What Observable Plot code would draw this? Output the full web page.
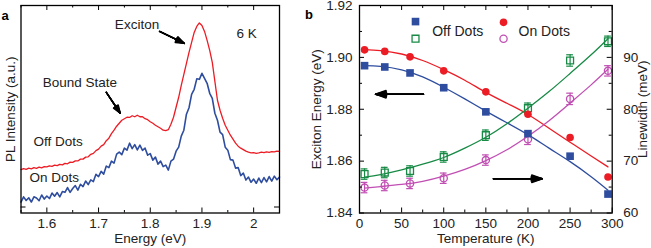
<!DOCTYPE html>
<html><head><meta charset="utf-8">
<script src="https://cdn.jsdelivr.net/npm/d3@7"></script>
<script src="https://cdn.jsdelivr.net/npm/@observablehq/plot@0.6"></script>
<style>
body{margin:0;background:#fff;}
#wrap{display:flex;width:651px;height:248px;overflow:hidden;}
#wrap svg{overflow:visible;flex:none;}
</style></head><body><div id="wrap"></div>
<script>
// ---------- Panel a: PL spectra at 6 K ----------
const specStart = 1.55, specStep = 0.005;
const offDotsPL = [
 43.5,44.5,43.8,45,44.3,45.5,44.8,46,45.3,46.5,
 46.2,47.3,46.8,48,47.5,48.8,48.3,49.8,49.3,51,
 50.8,52.3,52.2,54,54,56,56.3,58.8,59.8,62.5,
 64,67,68.5,72.5,75,79.5,83,87,90,93,
 94.5,96,95.8,97.5,96.5,98,96.5,96.5,94.5,93.5,
 91.5,90,88,86.5,85,83,82.5,83.5,89,96,
 106,116,128,139,150,161,171,181,187,190.5,
 188,182,173,163,151,132,113,103,95,88,
 83,78,74,70,67,65,63.5,62,61,60.3,
 60.5,59.8,60.3,61,60.5,61.3,60.8,61.5,61.2,62,
 61.7];
const onDotsPL = [
 11,16.2,12.5,15.3,11,16.2,15,12.3,18,14,
 17,14.5,20,16.8,20.5,16.2,21.5,20.7,25.5,20.7,
 24.5,27.5,23,28.8,26.5,32,28.5,33.2,31.5,38.8,
 36.5,41.7,39,47,45.5,52,50,59,61,58.5,
 65,63,70,64.5,68.5,63.2,68,62.7,65,58,
 59.5,53,56,49,52,46.5,48,43,52,54,
 62,66,77,83,99,105.5,119,124,134.5,134,
 140,135,130,120,115,100,93,81,78.5,66,
 63,53.5,53,45,45.5,37.5,40,33,36,30.8,
 34,29.8,35,30.5,35.5,31.2,36.5,32,37,33.3,
 36];
const specA = offDotsPL.map((v, i) => ({e: specStart + i * specStep, off: v, on: onDotsPL[i]}));
const xTicksA = [1.6, 1.7, 1.8, 1.9, 2];
const xMinorA = [1.55, 1.65, 1.75, 1.85, 1.95, 2.05];
const yTicksA = [6];
const notesA = [
  {text: "Exciton", e: 1.7744, i: 189},
  {text: "6 K", e: 1.9866, i: 180},
  {text: "Bound State", e: 1.664, i: 130.3},
  {text: "Off Dots", e: 1.622, i: 71},
  {text: "On Dots", e: 1.6145, i: 35}
];
const arrowsA = [
  {e1: 1.818, i1: 182, e2: 1.866, i2: 170},
  {e1: 1.715, i1: 121, e2: 1.742, i2: 100}
];

// ---------- Panel b: temperature dependence ----------
const temps = [6, 30, 60, 100, 150, 200, 250, 295];
const offEnergy = [1.8968, 1.8963, 1.8940, 1.8883, 1.8790, 1.8706, 1.8619, 1.8473];
const onEnergy  = [1.9029, 1.9023, 1.9002, 1.8948, 1.8867, 1.8781, 1.8691, 1.8539];
const offWidth  = [67.5, 67.8, 68.1, 70.8, 75.0, 80.2, 89.4, 93.1];
const onWidth   = [64.9, 65.3, 65.7, 66.7, 70.2, 74.2, 82.0, 87.4];
const widthErr  = [1.0, 1.0, 1.0, 1.0, 1.0, 1.0, 1.1, 1.0];
const fitT        = [6, 25, 50, 75, 100, 125, 150, 175, 200, 225, 250, 275, 295];
const offEnergyFit = [1.8968, 1.8965, 1.8952, 1.8925, 1.8885, 1.8840, 1.8793, 1.8748, 1.8702, 1.8650, 1.8598, 1.8540, 1.8488];
const onEnergyFit  = [1.9030, 1.9026, 1.9013, 1.8988, 1.8953, 1.8912, 1.8865, 1.8823, 1.8780, 1.8727, 1.8673, 1.8620, 1.8578];
const offWidthFit  = [66.9, 67.4, 68.3, 69.4, 70.7, 72.5, 74.6, 77.2, 80.2, 83.4, 86.9, 90.5, 93.6];
const onWidthFit   = [64.8, 65.1, 65.5, 66.1, 67.1, 68.4, 70.1, 72.2, 74.8, 77.8, 81.2, 84.7, 87.7];
const tempTicks = [0, 50, 100, 150, 200, 250, 300];
const tempMinor = [25, 75, 125, 175, 225, 275];
const energyTicks = [1.84, 1.86, 1.88, 1.90, 1.92];
const energyMinor = [1.85, 1.87, 1.89, 1.91];
const widthTicks = [60, 70, 80, 90, 100];
const widthMinor = [65, 75, 85, 95];
const widthLabels = [60, 70, 80, 90];
const legendB = [
  {t: 66.5, e: 1.9138, kind: "offE"},
  {t: 66.5, e: 1.9072, kind: "offW"},
  {t: 171, e: 1.9135, kind: "onE"},
  {t: 171, e: 1.9072, kind: "onW"}
];
const legendText = [{t: 86.3, e: 1.9099, text: "Off Dots"}, {t: 188.8, e: 1.9099, text: "On Dots"}];
const arrowsB = [
  {t1: 76, e1: 1.8858, t2: 19, e2: 1.8858},
  {t1: 159, e1: 1.8532, t2: 217, e2: 1.8532}
];

// map linewidth (meV, right axis 60..100) onto energy axis (1.84..1.92)
const wToE = w => 1.84 + (w - 60) * 0.002;
const eToW = e => (e - 1.84) / 0.002 + 60;

const RED = "#ec1c24", BLUE = "#2e4d9f", GREEN = "#178a45", MAG = "#c14fb3";
const FONT = "'Liberation Sans', Arial, Helvetica, sans-serif";
const TXT = "#222";
const MID = {textAnchor: "middle", lineAnchor: "middle"};

function inwardTicks(values, axis, side, len, innerW, innerH) {
  if (axis === "x") {
    return Plot.tickX(values, {x: d => d, stroke: "black", strokeWidth: 1,
      [side === "bottom" ? "insetTop" : "insetBottom"]: innerH - len});
  }
  return Plot.tickY(values, {y: d => d, stroke: "black", strokeWidth: 1,
    [side === "left" ? "insetRight" : "insetLeft"]: innerW - len});
}
function filledArrows(data, opts) {
  return [8, 16, 24, 32, 40].map(a => Plot.arrow(data, {...opts, headAngle: a}));
}

// ---- Panel a plot ----
const WA = 300, H = 248, mtA = 5, mbA = 35.5, mlA = 20.5, mrA = 21;
const iwA = WA - mlA - mrA, ihA = H - mtA - mbA;
const plotA = Plot.plot({
  width: WA, height: H, marginTop: mtA, marginBottom: mbA, marginLeft: mlA, marginRight: mrA,
  x: {domain: [1.55, 2.05], label: null},
  y: {domain: [0, 208], axis: null, label: null},
  style: {fontSize: "13.5px", fontFamily: FONT, color: TXT, background: "white", overflow: "visible"},
  marks: [
    Plot.line(specA, {x: "e", y: "on", stroke: BLUE, strokeWidth: 1.6}),
    Plot.line(specA, {x: "e", y: "off", stroke: RED, strokeWidth: 1.3}),
    inwardTicks(xTicksA, "x", "bottom", 5, iwA, ihA),
    inwardTicks(xTicksA, "x", "top", 5, iwA, ihA),
    inwardTicks(xMinorA, "x", "bottom", 2.5, iwA, ihA),
    inwardTicks(xMinorA, "x", "top", 2.5, iwA, ihA),
    inwardTicks(yTicksA, "y", "left", 5, iwA, ihA),
    inwardTicks(yTicksA, "y", "right", 5, iwA, ihA),
    Plot.frame({stroke: "black", strokeWidth: 1.3}),
    Plot.axisX({ticks: xTicksA, tickSize: 0, tickPadding: 5, tickFormat: d => String(d), label: null, fontSize: 13.5, fill: TXT}),
    Plot.text(notesA, {x: "e", y: "i", text: "text", fill: TXT, fontSize: 13.5}),
    ...filledArrows(arrowsA, {x1: "e1", y1: "i1", x2: "e2", y2: "i2", stroke: "black", strokeWidth: 1.4, headLength: 11}),
    Plot.text(["Energy (eV)"], {frameAnchor: "bottom", dy: 26, ...MID, fill: TXT, fontSize: 13.5}),
    Plot.text(["PL Intensity (a.u.)"], {frameAnchor: "left", dx: -10.5, rotate: -90, ...MID, fill: TXT, fontSize: 13.5}),
    Plot.text(["a"], {frameAnchor: "top-left", dx: -16, dy: 10, ...MID, fontWeight: "bold", fontSize: 13, fill: "black"})
  ]
});

// ---- Panel b plot ----
const WB = 351, mtB = 5, mbB = 35.5, mlB = 59, mrB = 39.3;
const iwB = WB - mlB - mrB, ihB = H - mtB - mbB;
const pts = temps.map((t, i) => ({t, offE: offEnergy[i], onE: onEnergy[i], offW: wToE(offWidth[i]), onW: wToE(onWidth[i]),
  offLo: wToE(offWidth[i] - widthErr[i]), offHi: wToE(offWidth[i] + widthErr[i]),
  onLo: wToE(onWidth[i] - widthErr[i]), onHi: wToE(onWidth[i] + widthErr[i])}));
const fits = fitT.map((t, i) => ({t, offE: offEnergyFit[i], onE: onEnergyFit[i], offW: wToE(offWidthFit[i]), onW: wToE(onWidthFit[i])}));
const capW = 4;
function errBars(lo, hi, color) {
  return [
    Plot.ruleX(pts, {x: "t", y1: lo, y2: hi, stroke: color, strokeWidth: 1.2}),
    Plot.ruleY(pts, {x1: d => d.t - capW, x2: d => d.t + capW, y: lo, stroke: color, strokeWidth: 1.2}),
    Plot.ruleY(pts, {x1: d => d.t - capW, x2: d => d.t + capW, y: hi, stroke: color, strokeWidth: 1.2})
  ];
}
const styleOf = {
  offE: {symbol: "square", fill: BLUE, r: 4.3},
  onE: {symbol: "circle", fill: RED, r: 3.8},
  offW: {symbol: "square", fill: "none", stroke: GREEN, strokeWidth: 1.3, r: 3.9},
  onW: {symbol: "circle", fill: "none", stroke: MAG, strokeWidth: 1.3, r: 3.6}
};
const plotB = Plot.plot({
  width: WB, height: H, marginTop: mtB, marginBottom: mbB, marginLeft: mlB, marginRight: mrB,
  x: {domain: [0, 300], label: null},
  y: {domain: [1.84, 1.92], label: null},
  style: {fontSize: "13.5px", fontFamily: FONT, color: TXT, background: "white", overflow: "visible"},
  marks: [
    Plot.line(fits, {x: "t", y: "offE", stroke: BLUE, strokeWidth: 1.3, curve: "natural"}),
    Plot.line(fits, {x: "t", y: "onE", stroke: RED, strokeWidth: 1.3, curve: "natural"}),
    Plot.line(fits, {x: "t", y: "offW", stroke: GREEN, strokeWidth: 1.3, curve: "natural"}),
    Plot.line(fits, {x: "t", y: "onW", stroke: MAG, strokeWidth: 1.3, curve: "natural"}),
    ...errBars("offLo", "offHi", GREEN),
    ...errBars("onLo", "onHi", MAG),
    Plot.dot(pts, {x: "t", y: "offW", ...styleOf.offW}),
    Plot.dot(pts, {x: "t", y: "onW", ...styleOf.onW}),
    Plot.dot(pts, {x: "t", y: "offE", ...styleOf.offE}),
    Plot.dot(pts, {x: "t", y: "onE", ...styleOf.onE}),
    ...legendB.map(d => Plot.dot([d], {x: "t", y: "e", ...styleOf[d.kind]})),
    Plot.text(legendText, {x: "t", y: "e", text: "text", textAnchor: "start", fill: TXT, fontSize: 14}),
    ...filledArrows(arrowsB, {x1: "t1", y1: "e1", x2: "t2", y2: "e2", stroke: "black", strokeWidth: 1.4, headLength: 12}),
    inwardTicks(tempTicks, "x", "bottom", 5, iwB, ihB),
    inwardTicks(tempTicks, "x", "top", 5, iwB, ihB),
    inwardTicks(tempMinor, "x", "bottom", 3, iwB, ihB),
    inwardTicks(tempMinor, "x", "top", 3, iwB, ihB),
    inwardTicks(energyTicks, "y", "left", 5, iwB, ihB),
    inwardTicks(energyMinor, "y", "left", 3, iwB, ihB),
    inwardTicks(widthTicks.map(wToE), "y", "right", 5, iwB, ihB),
    inwardTicks(widthMinor.map(wToE), "y", "right", 3, iwB, ihB),
    Plot.frame({stroke: "black", strokeWidth: 1.3}),
    Plot.axisX({ticks: tempTicks, tickSize: 0, tickPadding: 5, tickFormat: d => String(d), label: null, fontSize: 13.5, fill: TXT}),
    Plot.axisY({anchor: "left", ticks: energyTicks, tickSize: 0, tickPadding: 7, tickFormat: d => d.toFixed(2), label: null, fontSize: 13.5, fill: TXT}),
    Plot.axisY({anchor: "right", ticks: widthLabels.map(wToE), tickSize: 0, tickPadding: 11, tickFormat: d => String(Math.round(eToW(d))), label: null, fontSize: 13.5, fill: TXT}),
    Plot.text(["Temperature (K)"], {frameAnchor: "bottom", dy: 26, ...MID, fill: TXT, fontSize: 13.5}),
    Plot.text(["Exciton Energy (eV)"], {frameAnchor: "left", dx: -43, rotate: -90, ...MID, fill: TXT, fontSize: 13.5}),
    Plot.text(["Linewidth (meV)"], {frameAnchor: "right", dx: 30, rotate: -90, ...MID, fill: TXT, fontSize: 13.5}),
    Plot.text(["b"], {frameAnchor: "top-left", dx: -50.5, dy: 9.5, ...MID, fontWeight: "bold", fontSize: 13, fill: "black"})
  ]
});

const wrap = document.getElementById("wrap");
wrap.appendChild(plotA);
wrap.appendChild(plotB);
</script>
</body></html>
